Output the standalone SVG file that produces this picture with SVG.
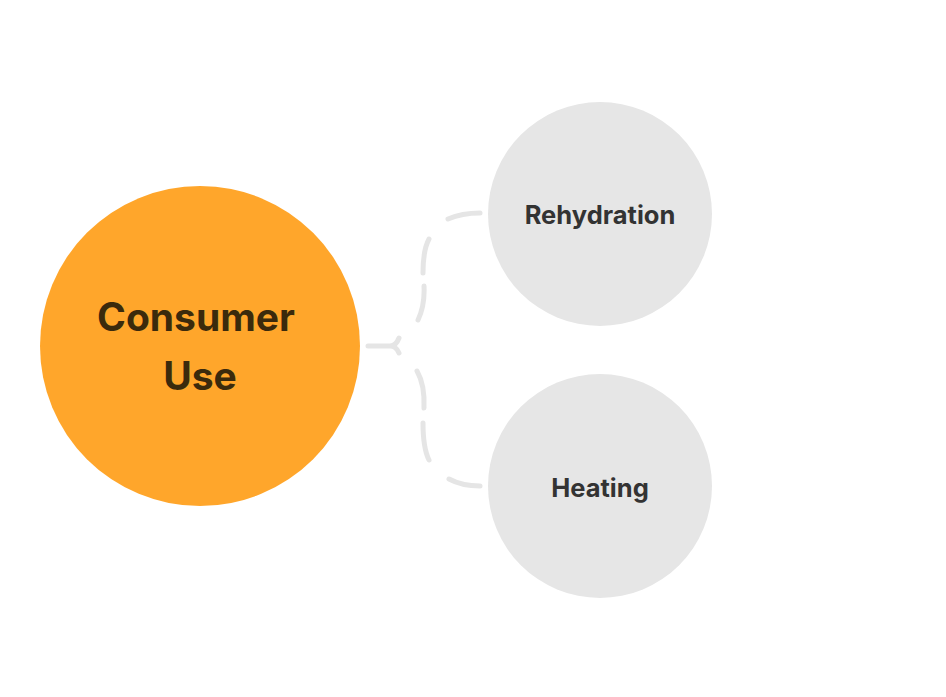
<svg xmlns="http://www.w3.org/2000/svg" width="946" height="697" viewBox="0 0 946 697">
<style>
.conn{fill:none;stroke:#e5e5e5;stroke-width:5;stroke-linecap:round;stroke-linejoin:round}
.main{fill:#ffa62b}
.sub{fill:#e6e6e6}
.t1{font-family:Inter,"Liberation Sans",sans-serif;font-weight:700;font-size:39px;fill:#3b2a0c;text-anchor:middle}
.t2{font-family:Inter,"Liberation Sans",sans-serif;font-weight:700;font-size:25.5px;fill:#333333;text-anchor:middle}
</style>
<rect width="946" height="697" fill="#ffffff"/>
<g id="connectors">
<path id="rehydration-to-consumer" class="conn" d="M480,213 Q462,213 448,219 M429,239 Q423,250 423,273 M424,286 Q425,305 418,320"/>
<path id="heating-to-consumer" class="conn" d="M417,371 Q425,385 424,408 M423,423 Q423,448 429,460 M449,479 Q462,486 480,486"/>
<path id="arrowhead" class="conn" d="M368,346 L392,346 M399,338 Q396,346 390,346 Q396,346 399,353"/>
</g>
<g id="consumer-use">
<circle class="main" cx="200" cy="346" r="160"/>
<text class="t1" x="196" y="331">Consumer</text>
<text class="t1" x="200" y="390">Use</text>
</g>
<g id="rehydration">
<circle class="sub" cx="600" cy="214" r="112"/>
<text class="t2" x="600" y="224">Rehydration</text>
</g>
<g id="heating">
<circle class="sub" cx="600" cy="486" r="112"/>
<text class="t2" x="600" y="497">Heating</text>
</g>
</svg>
